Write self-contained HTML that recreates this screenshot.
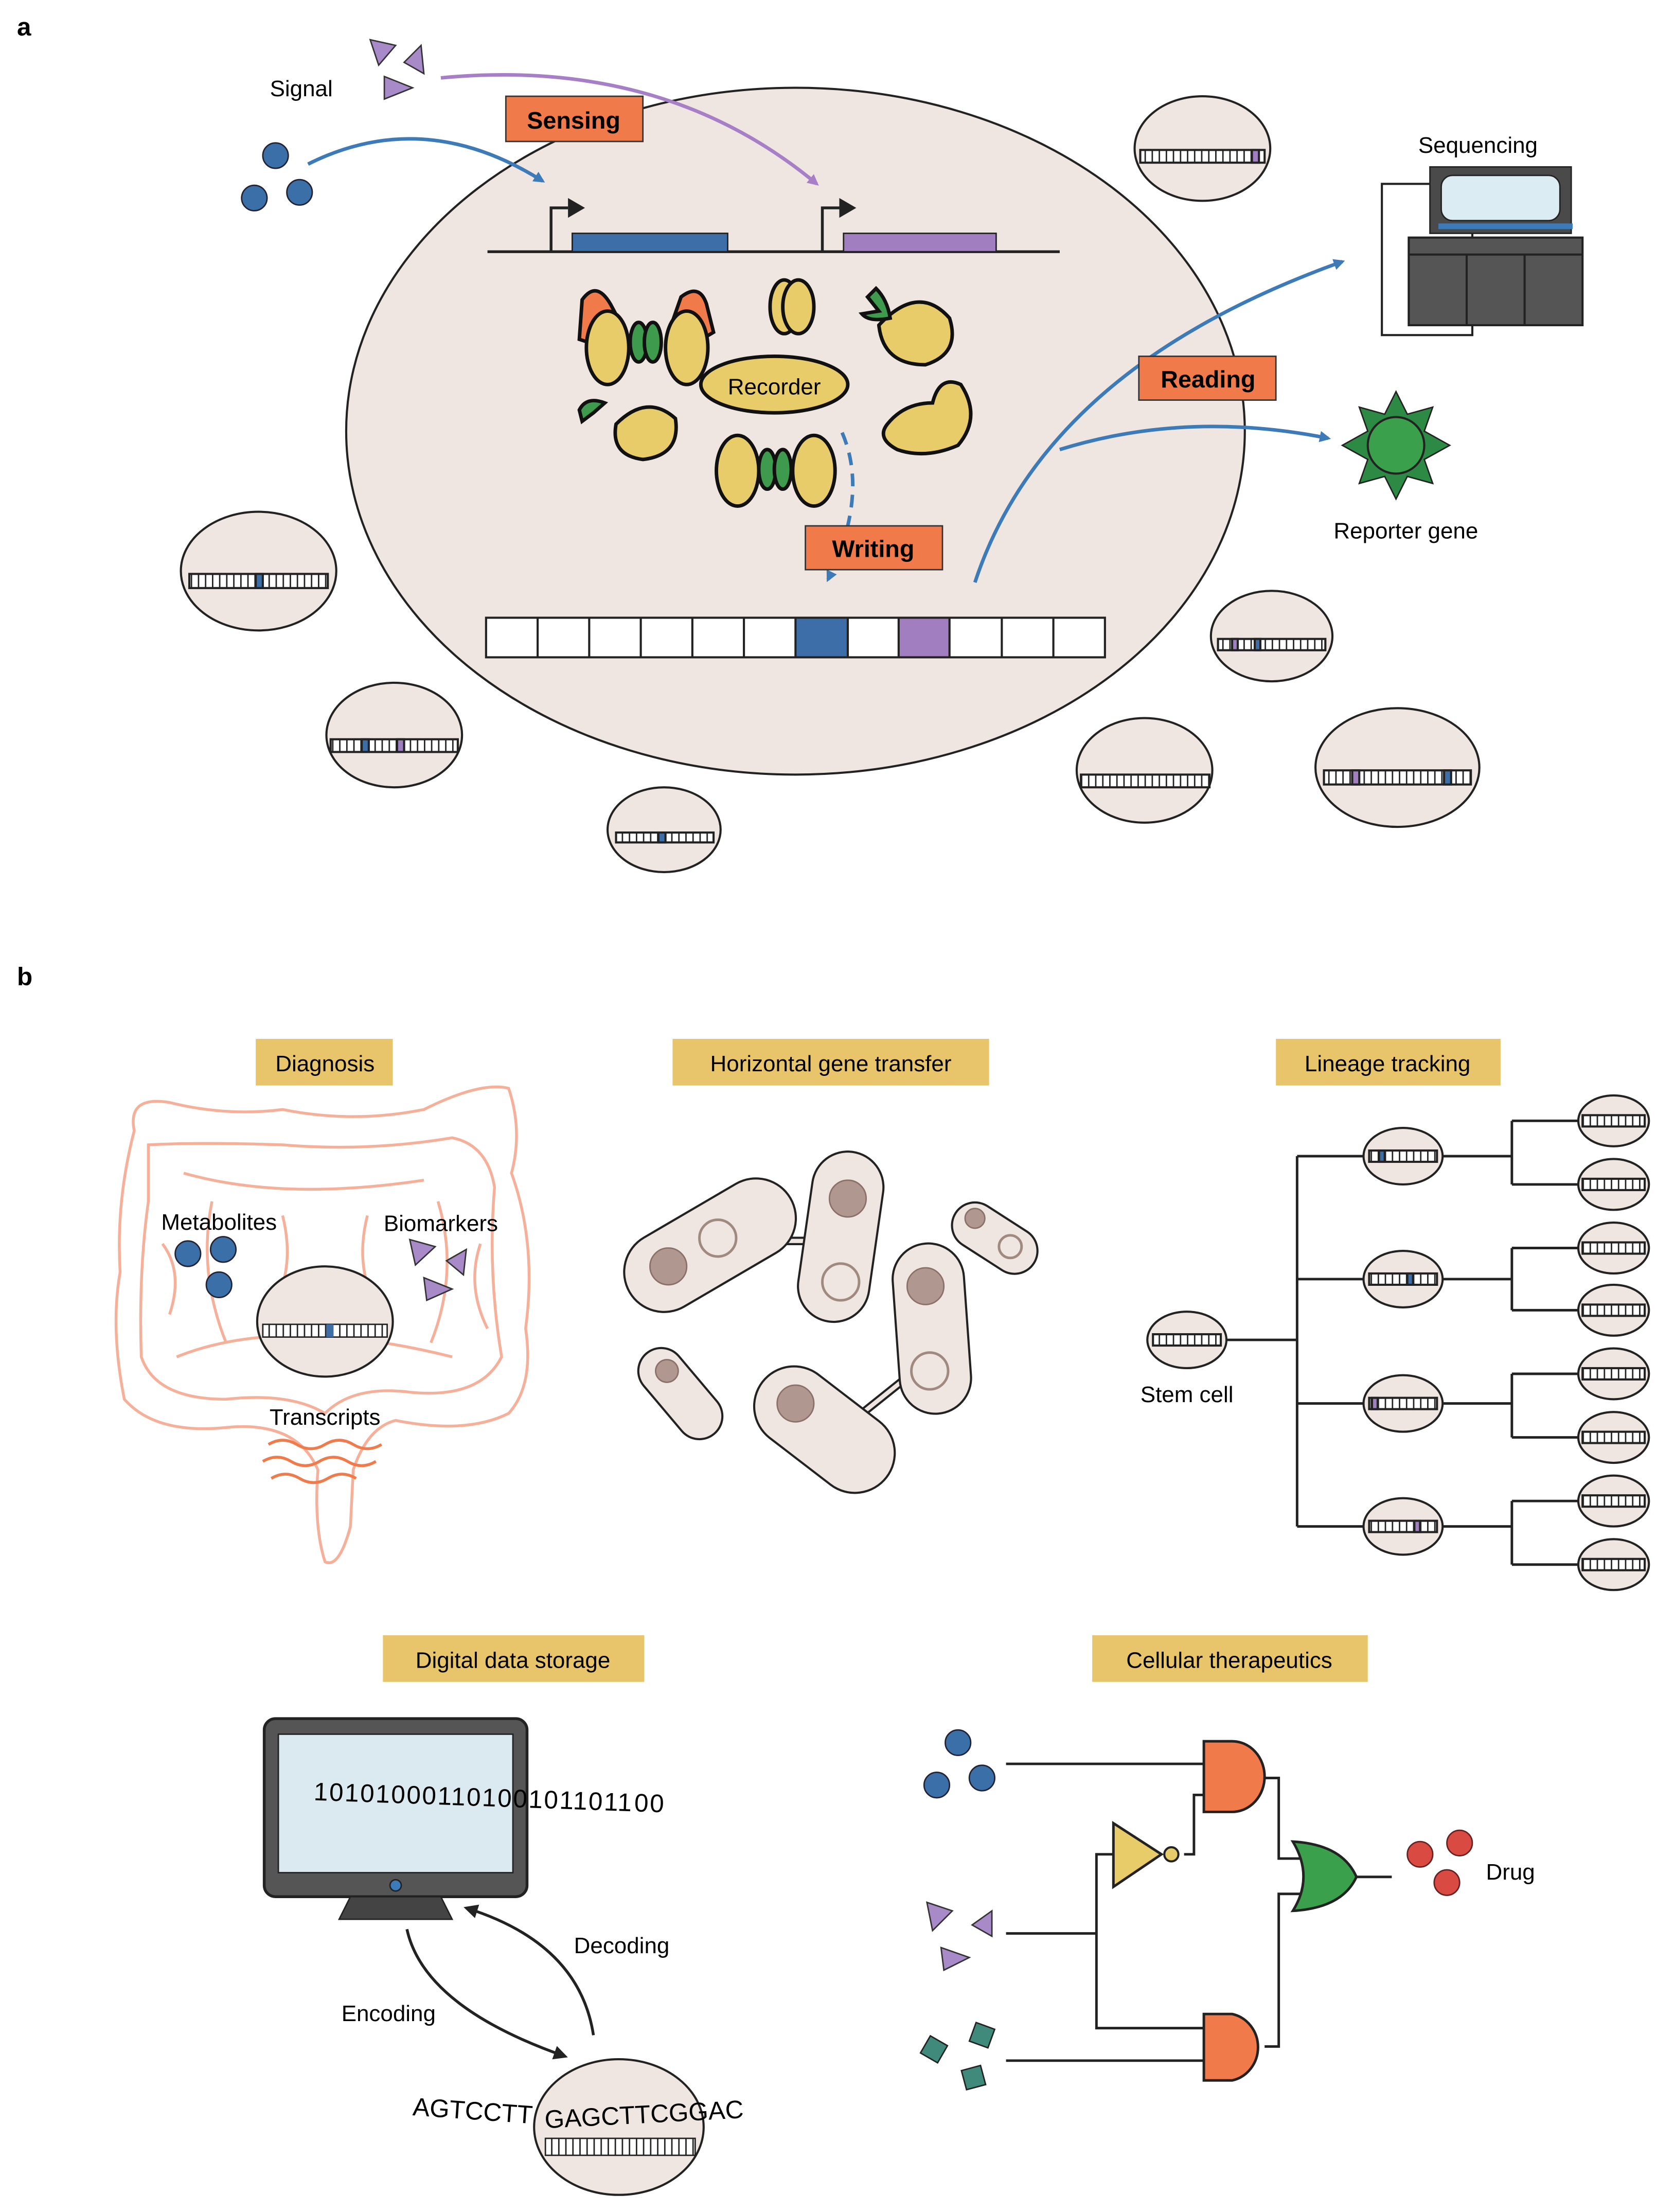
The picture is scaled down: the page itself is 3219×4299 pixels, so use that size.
<!DOCTYPE html>
<html><head><meta charset="utf-8"><style>html,body{margin:0;padding:0;background:#fff}svg{display:block}text{font-family:"Liberation Sans",sans-serif}</style></head><body>
<svg width="3219" height="4299" viewBox="0 0 1172 1565" xmlns="http://www.w3.org/2000/svg">
<defs>
<pattern id="st" width="5" height="10" patternUnits="userSpaceOnUse"><rect width="5" height="10" fill="#fff"/><rect width="1" height="10" fill="#222"/></pattern>
<marker id="ab" markerWidth="8" markerHeight="8" refX="6" refY="4" orient="auto" markerUnits="userSpaceOnUse"><path d="M0,0 L8,4 L0,8 z" fill="#3d7ab8"/></marker>
<marker id="ap" markerWidth="8" markerHeight="8" refX="6" refY="4" orient="auto" markerUnits="userSpaceOnUse"><path d="M0,0 L8,4 L0,8 z" fill="#a77fc7"/></marker>
<marker id="ak" markerWidth="10" markerHeight="10" refX="8" refY="5" orient="auto" markerUnits="userSpaceOnUse"><path d="M0,0 L10,5 L0,10 z" fill="#222"/></marker>
</defs>
<rect width="1172" height="1565" fill="#fff"/>
<text x="12" y="25" font-size="18" font-weight="bold">a</text>
<ellipse cx="563" cy="305" rx="318" ry="243" fill="#efe5e1" stroke="#222" stroke-width="1.5"/>
<text x="191" y="68" font-size="16">Signal</text>
<polygon points="262,28 280,32 268,46" fill="#a88ac8" stroke="#333"/>
<polygon points="298,32 286,44 300,52" fill="#a88ac8" stroke="#333"/>
<polygon points="272,54 292,62 272,70" fill="#a88ac8" stroke="#333"/>
<circle cx="195" cy="110" r="9" fill="#3b6fa8" stroke="#223"/>
<circle cx="180" cy="140" r="9" fill="#3b6fa8" stroke="#223"/>
<circle cx="212" cy="136" r="9" fill="#3b6fa8" stroke="#223"/>
<path d="M218,116 Q300,75 384,128" fill="none" stroke="#3d7ab8" stroke-width="2.5" marker-end="url(#ab)"/>
<path d="M312,55 Q470,40 578,130" fill="none" stroke="#a77fc7" stroke-width="2.5" marker-end="url(#ap)"/>
<rect x="358" y="68" width="97" height="32" fill="#f07a4a" stroke="#333"/><text x="406" y="91" font-size="17" font-weight="bold" text-anchor="middle">Sensing</text>
<line x1="345" y1="178" x2="750" y2="178" stroke="#222" stroke-width="2"/>
<rect x="405" y="165" width="110" height="13" fill="#3d6ea8" stroke="#222"/>
<rect x="597" y="165" width="108" height="13" fill="#a07ec0" stroke="#222"/>
<path d="M390,178 V147 H402" fill="none" stroke="#222" stroke-width="2"/><path d="M402,140 L414,147 L402,154z" fill="#222"/>
<path d="M582,178 V147 H594" fill="none" stroke="#222" stroke-width="2"/><path d="M594,140 L606,147 L594,154z" fill="#222"/>
<g stroke="#111" stroke-width="2.5" fill="#e8cc6a">
<path d="M410,240 L412,212 Q422,198 432,215 L440,230 L425,245z" fill="#f07a4a"/>
<path d="M475,230 L482,210 Q495,200 500,215 L505,235 L488,245z" fill="#f07a4a"/>
<ellipse cx="430" cy="246" rx="15" ry="26"/>
<ellipse cx="486" cy="246" rx="15" ry="26"/>
<ellipse cx="452" cy="242" rx="6" ry="14" fill="#3e9a4c"/><ellipse cx="462" cy="242" rx="6" ry="14" fill="#3e9a4c"/>
<ellipse cx="555" cy="217" rx="10" ry="19"/><ellipse cx="565" cy="217" rx="11" ry="19"/>
<path d="M622,230 Q650,200 672,225 Q680,250 655,258 Q625,258 622,230z"/>
<path d="M614,210 L622,220 L610,222 Q615,228 630,225 Q628,212 620,204z" fill="#3e9a4c"/>
<ellipse cx="548" cy="272" rx="52" ry="20"/>
<path d="M436,300 Q458,278 478,296 Q482,322 455,325 Q432,322 436,300z"/>
<path d="M410,290 Q415,280 428,285 L420,292 L412,298z" fill="#3e9a4c"/>
<path d="M628,300 Q640,285 660,285 Q665,265 680,272 Q695,295 678,315 Q655,325 635,318 Q620,310 628,300z"/>
<ellipse cx="522" cy="333" rx="15" ry="25"/><ellipse cx="576" cy="333" rx="15" ry="25"/>
<ellipse cx="543" cy="332" rx="6" ry="14" fill="#3e9a4c"/><ellipse cx="554" cy="332" rx="6" ry="14" fill="#3e9a4c"/>
</g>
<text x="548" y="279" font-size="16" text-anchor="middle">Recorder</text>
<path d="M596,306 Q615,350 586,410" fill="none" stroke="#3d7ab8" stroke-width="2.5" stroke-dasharray="9,6" marker-end="url(#ab)"/>
<rect x="570" y="372" width="97" height="31" fill="#f07a4a" stroke="#333"/><text x="618" y="394" font-size="17" font-weight="bold" text-anchor="middle">Writing</text>
<g stroke="#222" stroke-width="1.5" fill="#fff">
<rect x="344" y="437" width="438" height="28"/>
<rect x="563" y="437" width="37" height="28" fill="#3d6ea8"/>
<rect x="636" y="437" width="36" height="28" fill="#a07ec0"/>
<path d="M380.5,437V465M417,437V465M453.5,437V465M490,437V465M526.5,437V465M709,437V465M745.5,437V465"/>
</g>
<path d="M690,412 Q740,260 950,185" fill="none" stroke="#3d7ab8" stroke-width="2.5" marker-end="url(#ab)"/>
<path d="M750,318 Q840,290 940,310" fill="none" stroke="#3d7ab8" stroke-width="2.5" marker-end="url(#ab)"/>
<rect x="806" y="252" width="97" height="31" fill="#f07a4a" stroke="#333"/><text x="855" y="274" font-size="17" font-weight="bold" text-anchor="middle">Reading</text>
<text x="1046" y="108" font-size="16" text-anchor="middle">Sequencing</text>
<rect x="978" y="130" width="64" height="107" fill="#fff" stroke="#222" stroke-width="1.5"/>
<rect x="997" y="168" width="123" height="62" fill="#555" stroke="#222" stroke-width="1.5"/>
<path d="M997,180H1120M1038,180V230M1079,180V230" stroke="#222" stroke-width="1.5"/>
<rect x="1012" y="118" width="100" height="47" fill="#4a4a4a" stroke="#222"/>
<rect x="1020" y="124" width="84" height="32" rx="8" fill="#dbecf2" stroke="#222"/>
<rect x="1018" y="158" width="95" height="4" fill="#3d7ab8"/>
<polygon points="988,277 996,293 1014,288 1008,305 1026,315 1008,325 1014,342 996,337 988,353 980,337 962,342 968,325 950,315 968,305 962,288 980,293" fill="#2d8a44" stroke="#222"/>
<circle cx="988" cy="315" r="20" fill="#3aa04c" stroke="#222" stroke-width="1.5"/>
<text x="995" y="381" font-size="16" text-anchor="middle">Reporter gene</text>
<g stroke="#222" stroke-width="1.5">
<ellipse cx="851" cy="105" rx="48" ry="37" fill="#efe5e1"/><rect x="807" y="106" width="88" height="9" fill="url(#st)"/><rect x="886" y="106" width="5" height="9" fill="#a07ec0"/>
<ellipse cx="183" cy="404" rx="55" ry="42" fill="#efe5e1"/><rect x="134" y="406" width="98" height="10" fill="url(#st)"/><rect x="181" y="406" width="5" height="10" fill="#3d6ea8"/>
<ellipse cx="279" cy="520" rx="48" ry="37" fill="#efe5e1"/><rect x="234" y="523" width="90" height="9" fill="url(#st)"/><rect x="256" y="523" width="5" height="9" fill="#3d6ea8"/><rect x="281" y="523" width="5" height="9" fill="#a07ec0"/>
<ellipse cx="470" cy="587" rx="40" ry="30" fill="#efe5e1"/><rect x="436" y="589" width="69" height="7" fill="url(#st)"/><rect x="466" y="589" width="5" height="7" fill="#3d6ea8"/>
<ellipse cx="900" cy="450" rx="43" ry="32" fill="#efe5e1"/><rect x="862" y="452" width="76" height="8" fill="url(#st)"/><rect x="888" y="452" width="4" height="8" fill="#3d6ea8"/><rect x="872" y="452" width="4" height="8" fill="#a07ec0"/>
<ellipse cx="810" cy="545" rx="48" ry="37" fill="#efe5e1"/><rect x="765" y="548" width="91" height="9" fill="url(#st)"/>
<ellipse cx="989" cy="543" rx="58" ry="42" fill="#efe5e1"/><rect x="937" y="545" width="104" height="10" fill="url(#st)"/><rect x="957" y="545" width="5" height="10" fill="#a07ec0"/><rect x="1022" y="545" width="5" height="10" fill="#3d6ea8"/>
</g>
<text x="12" y="697" font-size="18" font-weight="bold">b</text>
<g font-size="16" text-anchor="middle">
<rect x="181" y="735" width="97" height="33" fill="#e8c56a"/><text x="230" y="758">Diagnosis</text>
<rect x="476" y="735" width="224" height="33" fill="#e8c56a"/><text x="588" y="758">Horizontal gene transfer</text>
<rect x="903" y="735" width="159" height="33" fill="#e8c56a"/><text x="982" y="758">Lineage tracking</text>
<rect x="271" y="1157" width="185" height="33" fill="#e8c56a"/><text x="363" y="1180">Digital data storage</text>
<rect x="773" y="1157" width="195" height="33" fill="#e8c56a"/><text x="870" y="1180">Cellular therapeutics</text>
</g>
<g fill="none" stroke="#f6b09a" stroke-width="2">
<path d="M95,800 Q90,775 120,780 Q160,790 200,785 Q250,795 300,785 Q340,765 360,770 Q370,800 362,830 Q380,880 372,940 Q378,980 360,1000 Q330,1015 280,1005 Q260,1010 250,1040 L248,1080 Q240,1110 230,1105 Q222,1080 225,1040 Q210,1005 160,1010 Q110,1015 88,990 Q78,940 85,900 Q82,850 95,800z"/>
<path d="M105,810 Q140,808 200,810 Q260,815 320,805 Q345,810 350,840 Q345,900 355,960 Q340,990 290,985 Q250,980 230,1000 Q205,985 160,990 Q110,990 100,960 Q98,900 105,850z"/>
<path d="M130,830 Q200,850 300,835 M125,960 Q200,930 320,960 M150,850 Q140,900 160,950 M310,850 Q325,900 305,950 M200,860 Q210,900 190,930 M260,860 Q250,900 270,930 M115,880 Q130,900 120,930 M340,880 Q330,910 345,940"/>
</g>
<text x="155" y="870" font-size="16" text-anchor="middle">Metabolites</text>
<text x="312" y="871" font-size="16" text-anchor="middle">Biomarkers</text>
<circle cx="133" cy="887" r="9" fill="#3b6fa8" stroke="#223"/><circle cx="158" cy="884" r="9" fill="#3b6fa8" stroke="#223"/><circle cx="155" cy="909" r="9" fill="#3b6fa8" stroke="#223"/>
<polygon points="290,877 308,882 294,895" fill="#a88ac8" stroke="#333"/><polygon points="330,884 316,892 328,902" fill="#a88ac8" stroke="#333"/><polygon points="300,904 320,912 302,920" fill="#a88ac8" stroke="#333"/>
<ellipse cx="230" cy="935" rx="48" ry="39" fill="#efe5e1" stroke="#222" stroke-width="1.5"/><rect x="186" y="937" width="88" height="9" fill="url(#st)" stroke="#222"/><rect x="231" y="937" width="5" height="9" fill="#3d6ea8"/>
<text x="230" y="1008" font-size="16" text-anchor="middle">Transcripts</text>
<g fill="none" stroke="#f07a4a" stroke-width="2"><path d="M190,1022 q10,-6 20,0 t20,0 t20,0 t20,0"/><path d="M186,1034 q10,-6 20,0 t20,0 t20,0 t20,0"/><path d="M192,1046 q10,-6 20,0 t20,0 t20,0"/></g>
<g>
<line x1="545" y1="878" x2="580" y2="878" stroke="#222" stroke-width="6"/>
<line x1="610" y1="1000" x2="650" y2="968" stroke="#222" stroke-width="6"/>
<line x1="545" y1="878" x2="580" y2="878" stroke="#efe5e1" stroke-width="3"/>
<line x1="610" y1="1000" x2="650" y2="968" stroke="#efe5e1" stroke-width="3"/>
<line x1="470" y1="900" x2="535" y2="862" stroke-width="58" stroke-linecap="round" stroke="#222"/><line x1="470" y1="900" x2="535" y2="862" stroke-width="55" stroke-linecap="round" stroke="#efe5e1"/>
<line x1="600" y1="840" x2="590" y2="910" stroke-width="52" stroke-linecap="round" stroke="#222"/><line x1="600" y1="840" x2="590" y2="910" stroke-width="49" stroke-linecap="round" stroke="#efe5e1"/>
<line x1="657" y1="905" x2="662" y2="975" stroke-width="52" stroke-linecap="round" stroke="#222"/><line x1="657" y1="905" x2="662" y2="975" stroke-width="49" stroke-linecap="round" stroke="#efe5e1"/>
<line x1="562" y1="995" x2="605" y2="1028" stroke-width="58" stroke-linecap="round" stroke="#222"/><line x1="562" y1="995" x2="605" y2="1028" stroke-width="55" stroke-linecap="round" stroke="#efe5e1"/>
<line x1="690" y1="867" x2="718" y2="885" stroke-width="34" stroke-linecap="round" stroke="#222"/><line x1="690" y1="867" x2="718" y2="885" stroke-width="31" stroke-linecap="round" stroke="#efe5e1"/>
<line x1="468" y1="970" x2="495" y2="1002" stroke-width="34" stroke-linecap="round" stroke="#222"/><line x1="468" y1="970" x2="495" y2="1002" stroke-width="31" stroke-linecap="round" stroke="#efe5e1"/>
<g fill="none" stroke="#a08a80" stroke-width="1.8"><circle cx="508" cy="876" r="13"/><circle cx="595" cy="907" r="13"/><circle cx="658" cy="970" r="13"/><circle cx="715" cy="882" r="8"/></g>
</g>
<g fill="#b09890" stroke="#8a7068"><circle cx="473" cy="896" r="13"/><circle cx="600" cy="848" r="13"/><circle cx="655" cy="910" r="13"/><circle cx="563" cy="993" r="13"/><circle cx="690" cy="862" r="7"/><circle cx="472" cy="970" r="8"/></g>
<g stroke="#222" stroke-width="1.8" fill="none">
<path d="M868,948H918M918,818V1080M918,818H965M918,905H965M918,993H965M918,1080H965"/>
<path d="M1021,818H1070M1021,905H1070M1021,993H1070M1021,1080H1070"/>
<path d="M1070,793V838M1070,883V927M1070,972V1017M1070,1062V1107M1070,793H1117M1070,838H1117M1070,883H1117M1070,927H1117M1070,972H1117M1070,1017H1117M1070,1062H1117M1070,1107H1117"/>
</g>
<g stroke="#222" stroke-width="1.5">
<ellipse cx="840" cy="948" rx="28" ry="20" fill="#efe5e1"/><rect x="816" y="944" width="48" height="8" fill="url(#st)"/>
<ellipse cx="993" cy="818" rx="28" ry="20" fill="#efe5e1"/><rect x="969" y="814" width="48" height="8" fill="url(#st)"/><rect x="976" y="814" width="4" height="8" fill="#3d6ea8"/>
<ellipse cx="993" cy="905" rx="28" ry="20" fill="#efe5e1"/><rect x="969" y="901" width="48" height="8" fill="url(#st)"/><rect x="996" y="901" width="4" height="8" fill="#3d6ea8"/>
<ellipse cx="993" cy="993" rx="28" ry="20" fill="#efe5e1"/><rect x="969" y="989" width="48" height="8" fill="url(#st)"/><rect x="971" y="989" width="4" height="8" fill="#a07ec0"/>
<ellipse cx="993" cy="1080" rx="28" ry="20" fill="#efe5e1"/><rect x="969" y="1076" width="48" height="8" fill="url(#st)"/><rect x="1001" y="1076" width="4" height="8" fill="#a07ec0"/>
<ellipse cx="1142" cy="793" rx="25" ry="18" fill="#efe5e1"/><rect x="1120" y="789" width="44" height="8" fill="url(#st)"/>
<ellipse cx="1142" cy="838" rx="25" ry="18" fill="#efe5e1"/><rect x="1120" y="834" width="44" height="8" fill="url(#st)"/>
<ellipse cx="1142" cy="883" rx="25" ry="18" fill="#efe5e1"/><rect x="1120" y="879" width="44" height="8" fill="url(#st)"/>
<ellipse cx="1142" cy="927" rx="25" ry="18" fill="#efe5e1"/><rect x="1120" y="923" width="44" height="8" fill="url(#st)"/>
<ellipse cx="1142" cy="972" rx="25" ry="18" fill="#efe5e1"/><rect x="1120" y="968" width="44" height="8" fill="url(#st)"/>
<ellipse cx="1142" cy="1017" rx="25" ry="18" fill="#efe5e1"/><rect x="1120" y="1013" width="44" height="8" fill="url(#st)"/>
<ellipse cx="1142" cy="1062" rx="25" ry="18" fill="#efe5e1"/><rect x="1120" y="1058" width="44" height="8" fill="url(#st)"/>
<ellipse cx="1142" cy="1107" rx="25" ry="18" fill="#efe5e1"/><rect x="1120" y="1103" width="44" height="8" fill="url(#st)"/>
</g>
<text x="840" y="992" font-size="16" text-anchor="middle">Stem cell</text>
<rect x="187" y="1216" width="186" height="126" rx="8" fill="#555" stroke="#222" stroke-width="2"/>
<rect x="197" y="1227" width="166" height="98" fill="#dbe9f0" stroke="#222"/>
<circle cx="280" cy="1334" r="4" fill="#3d7ab8" stroke="#222"/>
<polygon points="248,1342 312,1342 320,1358 240,1358" fill="#444" stroke="#222"/>
<text x="222" y="1278" font-size="18" transform="rotate(2 345 1272)" textLength="248">101010001101001011011​00</text>
<path d="M288,1365 Q300,1420 400,1455" fill="none" stroke="#222" stroke-width="2" marker-end="url(#ak)"/>
<path d="M420,1440 Q410,1375 330,1350" fill="none" stroke="#222" stroke-width="2" marker-end="url(#ak)"/>
<text x="275" y="1430" font-size="16" text-anchor="middle">Encoding</text>
<text x="440" y="1382" font-size="16" text-anchor="middle">Decoding</text>
<ellipse cx="438" cy="1505" rx="60" ry="48" fill="#efe5e1" stroke="#222" stroke-width="1.5"/>
<rect x="386" y="1513" width="106" height="12" fill="url(#st)" stroke="#222"/>
<text x="292" y="1500" font-size="18" transform="rotate(4 340 1495)">AGTCCTT</text>
<text x="385" y="1503" font-size="18" transform="rotate(-3 440 1490)">GAGCTTCGGAC</text>
<circle cx="678" cy="1233" r="9" fill="#3b6fa8" stroke="#223"/><circle cx="663" cy="1263" r="9" fill="#3b6fa8" stroke="#223"/><circle cx="695" cy="1258" r="9" fill="#3b6fa8" stroke="#223"/>
<polygon points="656,1346 674,1352 660,1366" fill="#a88ac8" stroke="#333"/><polygon points="702,1352 688,1362 702,1370" fill="#a88ac8" stroke="#333"/><polygon points="666,1378 686,1385 668,1394" fill="#a88ac8" stroke="#333"/>
<g fill="#3f8a7a" stroke="#222"><rect x="654" y="1443" width="14" height="14" transform="rotate(30 661 1450)"/><rect x="688" y="1433" width="14" height="14" transform="rotate(20 695 1440)"/><rect x="682" y="1463" width="14" height="14" transform="rotate(-15 689 1470)"/></g>
<g fill="none" stroke="#222" stroke-width="1.8">
<path d="M712,1248H852M712,1368H776M776,1368V1435H852M776,1368V1312H788M838,1312H845V1270H852M712,1458H852"/>
<path d="M895,1258H905V1315H922M895,1448H905V1340H922M960,1328H985"/>
</g>
<path d="M852,1232 H872 A23,25 0 0 1 872,1282 H852z" fill="#f07a4a" stroke="#222" stroke-width="1.8"/>
<path d="M852,1425 H872 A23,24 0 0 1 872,1472 H852z" fill="#f07a4a" stroke="#222" stroke-width="1.8"/>
<polygon points="788,1290 822,1312 788,1335" fill="#e8cc6a" stroke="#222" stroke-width="1.8"/><circle cx="829" cy="1312" r="5" fill="#e8cc6a" stroke="#222" stroke-width="1.5"/>
<path d="M915,1303 Q950,1305 960,1328 Q950,1350 915,1352 Q930,1328 915,1303z" fill="#3aa04c" stroke="#222" stroke-width="1.8"/>
<circle cx="1005" cy="1312" r="9" fill="#d94a42" stroke="#622"/><circle cx="1033" cy="1304" r="9" fill="#d94a42" stroke="#622"/><circle cx="1024" cy="1332" r="9" fill="#d94a42" stroke="#622"/>
<text x="1069" y="1330" font-size="16" text-anchor="middle">Drug</text>
</svg>
</body></html>
